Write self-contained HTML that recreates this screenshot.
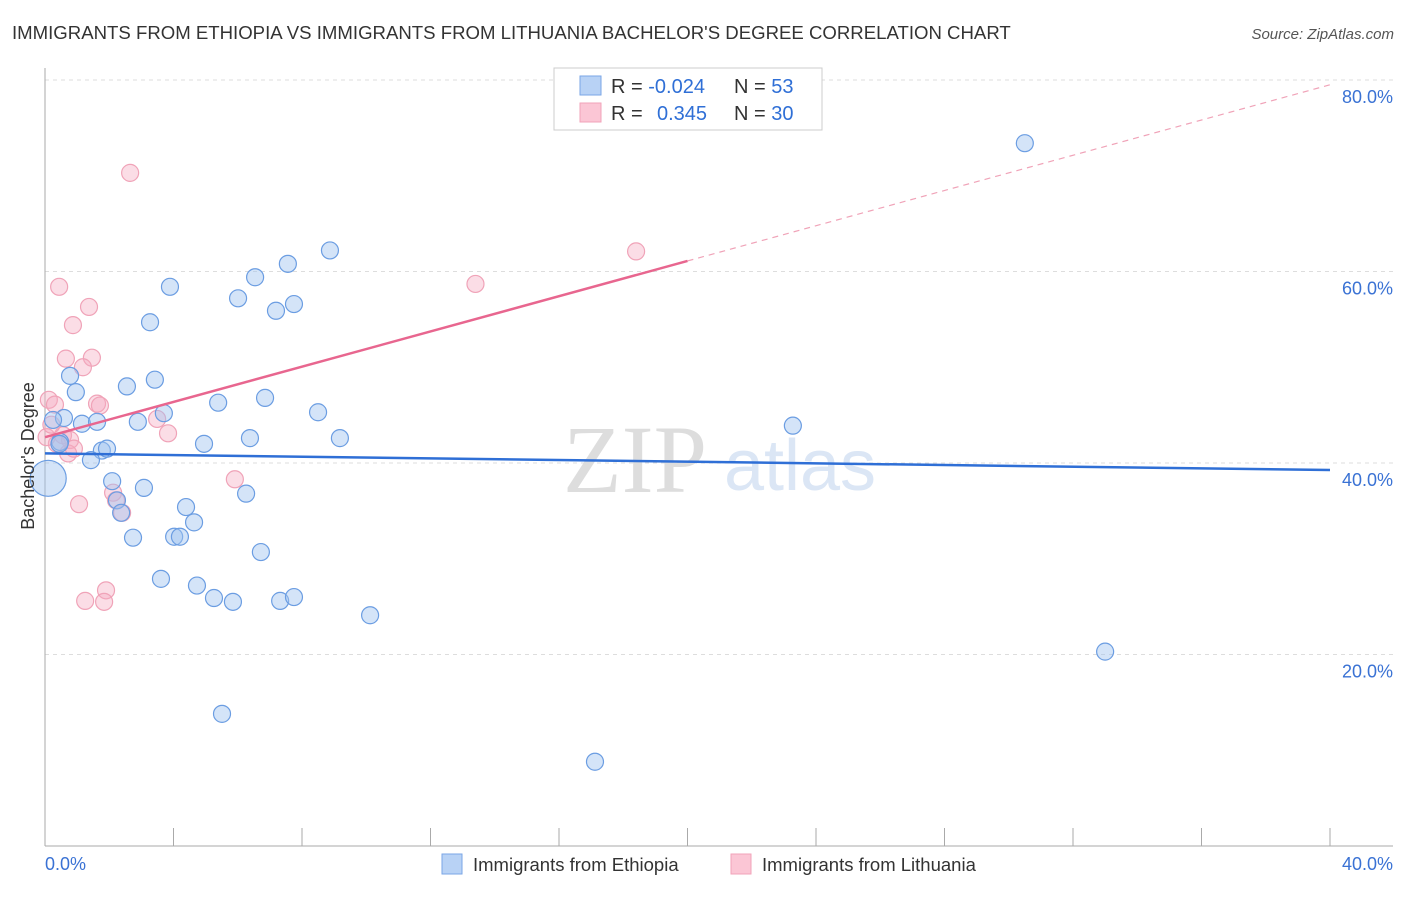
<!DOCTYPE html>
<html><head><meta charset="utf-8"><style>
body{margin:0;background:#fff;font-family:"Liberation Sans",sans-serif}
</style></head><body>
<svg id="c" width="1406" height="892" xmlns="http://www.w3.org/2000/svg">
<text x="12" y="39" font-size="18.6" fill="#333">IMMIGRANTS FROM ETHIOPIA VS IMMIGRANTS FROM LITHUANIA BACHELOR'S DEGREE CORRELATION CHART</text>
<text x="1394" y="39" font-size="15" fill="#555" text-anchor="end" font-style="italic">Source: ZipAtlas.com</text>
<text x="635" y="492" font-size="96" fill="#ddd" font-family="Liberation Serif,serif" text-anchor="middle">ZIP</text>
<text x="800" y="490" font-size="72" fill="#dbe6f5" text-anchor="middle">atlas</text>
<g id="grid"></g><g id="axes"></g><g id="marks"></g>
<text transform="translate(34,456) rotate(-90)" font-size="18" fill="#333" text-anchor="middle">Bachelor's Degree</text>
<g>
<rect x="554" y="68" width="268" height="62" fill="#fff" stroke="#ccc"/>
<rect x="580" y="76" width="21" height="19" fill="#b8d2f5" stroke="#7aa6e6"/>
<rect x="580" y="103" width="21" height="19" fill="#fbc6d5" stroke="#f1a3b9"/>
<text x="611" y="93" font-size="20" fill="#333">R = <tspan fill="#2f6fd6">-0.024</tspan></text>
<text x="734" y="93" font-size="20" fill="#333">N = <tspan fill="#2f6fd6">53</tspan></text>
<text x="611" y="120" font-size="20" fill="#333">R = <tspan fill="#2f6fd6" x="657">0.345</tspan></text>
<text x="734" y="120" font-size="20" fill="#333">N = <tspan fill="#2f6fd6">30</tspan></text>
</g>
<g>
<rect x="442" y="854" width="20" height="20" fill="#b8d2f5" stroke="#7aa6e6"/>
<text x="473" y="871" font-size="18.5" fill="#333">Immigrants from Ethiopia</text>
<rect x="731" y="854" width="20" height="20" fill="#fbc6d5" stroke="#f1a3b9"/>
<text x="762" y="871" font-size="18.5" fill="#333">Immigrants from Lithuania</text>
</g>
</svg>
<script>
const yTicks=[20,40,60,80];
const xTickLabels=["0.0%","40.0%"];
const blueX=[30.5,8.87,7.56,6.54,6.01,7.19,7.75,3.89,3.27,0.78,0.96,2.55,3.42,5.39,6.85,3.70,8.50,2.89,1.15,1.62,0.59,6.38,9.18,4.95,1.77,1.93,1.43,23.28,2.09,3.08,2.24,6.26,4.39,4.64,2.37,2.74,4.02,4.20,6.72,3.61,4.73,5.26,5.85,7.32,7.75,10.12,33.0,5.51,17.12,0.25,0.47,0.45];
const blueY=[73.4,62.2,60.8,59.4,57.2,55.9,56.6,58.4,54.7,49.1,47.4,48.0,48.7,46.3,46.8,45.2,45.3,44.3,44.1,44.3,44.7,42.6,42.6,42.0,41.3,41.5,40.3,43.9,38.1,37.4,36.1,36.8,35.4,33.8,34.8,32.2,32.3,32.3,30.7,27.9,27.2,25.9,25.5,25.6,26.0,24.1,20.3,13.8,8.8,44.5,42.2,42.0];
const bigBlueX=[0.1];const bigBlueY=[38.4];
const pinkX=[2.65,18.4,13.4,0.44,1.37,0.87,0.65,1.46,1.18,0.12,0.31,1.62,1.71,3.49,3.83,0.56,0.78,0.37,0.72,5.91,2.12,2.21,2.40,1.06,1.90,1.25,1.84,0.05,0.2,0.9];
const pinkY=[70.3,62.1,58.7,58.4,56.3,54.4,50.9,51.0,50.0,46.6,46.1,46.2,46.0,44.6,43.1,42.9,42.4,42.0,41.0,38.3,36.9,36.1,34.8,35.7,26.7,25.6,25.5,42.7,44.0,41.5];
const blueTrend=[41.0,39.27];
const pinkTrend=[42.7,79.5];
const X=v=>45+v*32.125, Y=v=>846-v*9.575;
const NS="http://www.w3.org/2000/svg";
function mk(p,t,a){const e=document.createElementNS(NS,t);for(const k in a)e.setAttribute(k,a[k]);document.getElementById(p).appendChild(e);return e;}
yTicks.forEach(t=>{
 const l=mk('grid','line',{x1:45,x2:1393,y1:Y(t),y2:Y(t),stroke:'#ddd','stroke-dasharray':'4,4'});
 
 
 const tx=mk('grid','text',{x:1393,y:Y(t)+23,'font-size':18,fill:'#3a72d4','text-anchor':'end'});
 tx.textContent=t.toFixed(1)+'%';
 
 
});
const ax=mk('axes','line',{x1:45,x2:45,y1:68,y2:846,stroke:'#aaa'});


const bx=mk('axes','line',{x1:45,x2:1393,y1:846,y2:846,stroke:'#aaa'});


for(let i=0;i<=10;i++){const t=mk('axes','line',{x1:X(i*4),x2:X(i*4),y1:828,y2:846,stroke:'#aaa'});
 
 }
[[0,'start'],[40,'end']].forEach((d,i)=>{const t=mk('axes','text',{x:i?1393:45,y:870,'font-size':18,fill:'#3a72d4','text-anchor':d[1]});t.textContent=xTickLabels[i];
 
 });
function dots(xs,ys,r,fill,stroke,name){xs.forEach((x,i)=>{const c=mk('marks','circle',{cx:X(x),cy:Y(ys[i]),r:r,fill:fill,stroke:stroke,'stroke-width':1.2});
 
 });}
dots(pinkX,pinkY,8.5,'rgba(246,170,192,0.4)','#f0a3b8','lithuania-point');
dots(blueX,blueY,8.5,'rgba(160,196,240,0.45)','#6b9de2','ethiopia-point');
dots(bigBlueX,bigBlueY,18,'rgba(160,196,240,0.45)','#6b9de2','ethiopia-point-large');
const bt=mk('marks','line',{x1:X(0),y1:Y(blueTrend[0]),x2:X(40),y2:Y(blueTrend[1]),stroke:'#2f6fd6','stroke-width':2.5});


const pm=pinkTrend[0]+(pinkTrend[1]-pinkTrend[0])*0.5;
const pt=mk('marks','line',{x1:X(0),y1:Y(pinkTrend[0]),x2:X(20),y2:Y(pm),stroke:'#e8668f','stroke-width':2.5});


const pd=mk('marks','line',{x1:X(20),y1:Y(pm),x2:X(40),y2:Y(pinkTrend[1]),stroke:'#f0a3b8','stroke-width':1.2,'stroke-dasharray':'6,5'});


</script>
</body></html>
